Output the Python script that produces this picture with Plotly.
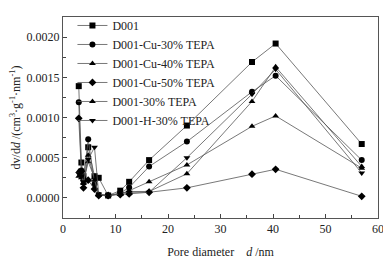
import plotly.graph_objects as go

# diametro de poro (nm) - grade comum
diametro = [3.0, 3.5, 3.9, 4.8, 6.0, 6.8, 8.6, 10.9, 12.6, 16.4, 23.6, 36.0, 40.5, 56.9]

d001 = [0.00139, 0.00044, 0.00027, 0.00063, 0.00027, 0.00025, 0.00003, 0.00009, 0.00020, 0.00047, 0.00090, 0.00169, 0.00192, 0.00067]
cu30 = [0.00119, 0.00034, 0.00022, 0.00073, 0.00017, 0.00004, 0.00003, 0.00006, 0.00013, 0.00039, 0.00070, 0.00132, 0.00152, 0.00047]
cu40 = [0.00033, 0.00028, 0.00019, 0.00045, 0.00025, 0.00004, 0.00003, 0.00005, 0.00008, 0.00008, 0.00030, 0.00120, 0.00163, 0.00039]
cu50 = [0.00099, 0.00033, 0.000125, 0.00022, 0.00011, 0.00003, 0.00003, 0.00004, 0.00005, 0.00007, 0.000125, 0.000295, 0.000356, 0.00002]
tepa30 = [0.00027, 0.00025, 0.00018, 0.00053, 0.00022, 0.00004, 0.00003, 0.00005, 0.00009, 0.00020, 0.00041, 0.00089, 0.00102, 0.00037]
h30 = [0.00030, 0.00027, 0.00020, 0.00048, 0.00063, 0.00005, 0.00003, 0.00005, 0.00007, 0.00007, 0.00050, 0.00129, 0.00160, 0.00031]

series = [
    ('D001', d001, 'square'),
    ('D001-Cu-30% TEPA', cu30, 'circle'),
    ('D001-Cu-40% TEPA', cu40, 'triangle-up'),
    ('D001-Cu-50% TEPA', cu50, 'diamond'),
    ('D001-30% TEPA', tepa30, 'triangle-up'),
    ('D001-H-30% TEPA', h30, 'triangle-down'),
]

FONTE = 'Liberation Serif'

fig = go.Figure()
for nome, vals, simb in series:
    fig.add_trace(go.Scatter(
        x=diametro, y=vals, name=nome, mode='lines+markers',
        line=dict(color='#555555', width=0.8),
        marker=dict(symbol=simb, size=6, color='black'),
    ))

eixo = dict(showline=True, linecolor='#555555', linewidth=1, mirror=True,
            ticks='inside', ticklen=4, tickcolor='#444444', showgrid=False,
            zeroline=False, tickfont=dict(family=FONTE, size=12, color='#222222'))

# a pagina tem margem de 8px no body, por isso a figura e um pouco menor
fig.update_layout(
    width=383, height=251,
    paper_bgcolor='white', plot_bgcolor='white',
    margin=dict(l=55, r=13, t=3, b=41),
    font=dict(family=FONTE, size=12, color='#222222'),
    showlegend=True,
    legend=dict(x=0.03, y=1.03, xanchor='left', yanchor='top',
                bgcolor='rgba(0,0,0,0)', font=dict(family=FONTE, size=12),
                tracegroupgap=0, itemwidth=30),
    xaxis=dict(eixo, range=[0, 60], dtick=10,
               minor=dict(ticks='inside', dtick=5, ticklen=3, tickcolor='#444444'),
               title=dict(text='Pore diameter    <i>d</i> /nm', standoff=12,
                          font=dict(family=FONTE, size=12))),
    yaxis=dict(eixo, range=[-0.00025, 0.00225], dtick=0.0005, tickformat='.4f',
               minor=dict(ticks='inside', dtick=0.00025, ticklen=3, tickcolor='#444444'),
               title=dict(text='dv/d<i>d</i> /(cm<sup>3</sup>·g<sup>-1</sup>·nm<sup>-1</sup>)',
                          standoff=4, font=dict(family=FONTE, size=12))),
)

fig.write_html('out.html')
